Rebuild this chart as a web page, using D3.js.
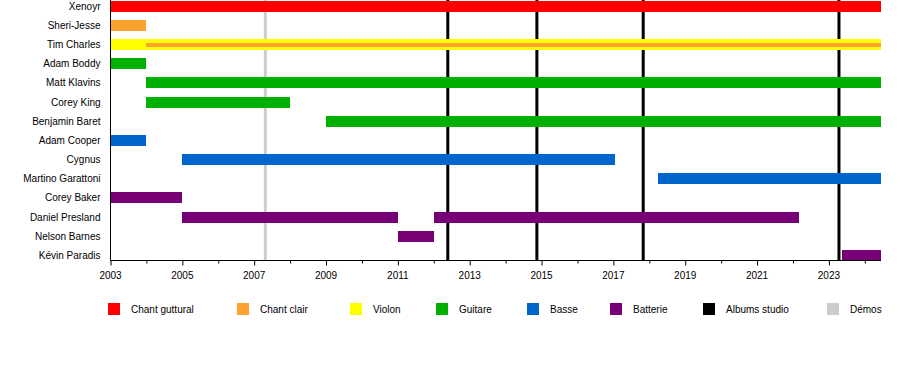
<!DOCTYPE html>
<html>
<head>
<meta charset="utf-8">
<script src="https://cdn.jsdelivr.net/npm/d3@7"></script>
<style>
  html, body { margin: 0; padding: 0; background: #fff; }
  svg { display: block; font-family: "Liberation Sans", Arial, sans-serif; }
</style>
</head>
<body>
<svg id="chart" width="900" height="380"></svg>
<script>
// ---- Data ----
const members = ["Xenoyr", "Sheri-Jesse", "Tim Charles", "Adam Boddy", "Matt Klavins", "Corey King",
  "Benjamin Baret", "Adam Cooper", "Cygnus", "Martino Garattoni", "Corey Baker", "Daniel Presland",
  "Nelson Barnes", "Kévin Paradis"];

const roles = ["Chant guttural", "Chant clair", "Violon", "Guitare", "Basse", "Batterie", "Albums studio", "Démos"];
const roleColors = ["#ff0000", "#ffa030", "#ffff00", "#00b000", "#0066cc", "#770077", "#000000", "#cccccc"];

const END = 2024.45;
// [member, role, start, end]
const periods = [
  ["Xenoyr", "Chant guttural", 2003, END],
  ["Sheri-Jesse", "Chant clair", 2003, 2004],
  ["Tim Charles", "Violon", 2003, END],
  ["Adam Boddy", "Guitare", 2003, 2004],
  ["Matt Klavins", "Guitare", 2004, END],
  ["Corey King", "Guitare", 2004, 2008],
  ["Benjamin Baret", "Guitare", 2009, END],
  ["Adam Cooper", "Basse", 2003, 2004],
  ["Cygnus", "Basse", 2005, 2017.05],
  ["Martino Garattoni", "Basse", 2018.25, END],
  ["Corey Baker", "Batterie", 2003, 2005],
  ["Daniel Presland", "Batterie", 2005, 2011],
  ["Daniel Presland", "Batterie", 2012, 2022.18],
  ["Nelson Barnes", "Batterie", 2011, 2012],
  ["Kévin Paradis", "Batterie", 2023.37, END]
];
// secondary (thin) role lines
const secondary = [
  ["Tim Charles", "Chant clair", 2004, END]
];

const albums = [2012.39, 2014.87, 2017.83, 2023.28];
const demos = [2007.31];
const tickYears = d3.range(2003, 2025, 1);
const labelYears = [2003, 2005, 2007, 2009, 2011, 2013, 2015, 2017, 2019, 2021, 2023];

// ---- Layout ----
const svg = d3.select("#chart");
const plotLeft = 110.5, plotRight = 881, plotTop = 0, axisY = 260.5;

const x = d3.scaleLinear().domain([2003, END]).range([plotLeft, plotRight]);
const y = d3.scalePoint().domain(members).range([6.4, 255.3]);
const color = d3.scaleOrdinal().domain(roles).range(roleColors);
const barH = 11, thinH = 4;

// vertical event lines (under bars)
svg.append("g").selectAll("line").data(demos).join("line")
  .attr("x1", d => x(d)).attr("x2", d => x(d))
  .attr("y1", plotTop).attr("y2", axisY)
  .attr("stroke", color("Démos")).attr("stroke-width", 3);

svg.append("g").selectAll("line").data(albums).join("line")
  .attr("x1", d => x(d)).attr("x2", d => x(d))
  .attr("y1", plotTop).attr("y2", axisY)
  .attr("stroke", color("Albums studio")).attr("stroke-width", 3);

// bars
svg.append("g").selectAll("rect").data(periods).join("rect")
  .attr("x", d => x(d[2]))
  .attr("width", d => x(d[3]) - x(d[2]))
  .attr("y", d => y(d[0]) - barH / 2)
  .attr("height", barH)
  .attr("fill", d => color(d[1]))
  .attr("shape-rendering", "crispEdges");

svg.append("g").selectAll("rect").data(secondary).join("rect")
  .attr("x", d => x(d[2]))
  .attr("width", d => x(d[3]) - x(d[2]))
  .attr("y", d => y(d[0]) - thinH / 2)
  .attr("height", thinH)
  .attr("fill", d => color(d[1]))
  .attr("shape-rendering", "crispEdges");

// member labels
svg.append("g").selectAll("text").data(members).join("text")
  .attr("x", 100.5)
  .attr("y", d => y(d))
  .attr("dy", "0.35em")
  .attr("text-anchor", "end")
  .attr("font-size", 10)
  .attr("fill", "#000")
  .text(d => d);

// left axis line
svg.append("line")
  .attr("x1", plotLeft).attr("x2", plotLeft).attr("y1", plotTop).attr("y2", axisY)
  .attr("stroke", "#000").attr("stroke-width", 1);

// bottom axis
const axis = d3.axisBottom(x)
  .tickValues(tickYears)
  .tickSizeOuter(0)
  .tickSize(3)
  .tickFormat("");
const gAxis = svg.append("g").attr("transform", `translate(0,${axisY})`).call(axis);
gAxis.select(".domain").attr("stroke", "#000").attr("d", `M${plotLeft},0H${plotRight}`);
gAxis.selectAll(".tick line").attr("stroke", "#000")
  .attr("y2", d => labelYears.includes(d) ? 5 : 3);

svg.append("g").selectAll("text").data(labelYears).join("text")
  .attr("x", d => x(d))
  .attr("y", 279)
  .attr("text-anchor", "middle")
  .attr("font-size", 10)
  .attr("fill", "#000")
  .text(d => d);

// legend
const legendX = [108, 237, 350, 436, 527, 610, 703, 827];
const lg = svg.append("g").selectAll("g").data(roles).join("g")
  .attr("transform", (d, i) => `translate(${legendX[i]},303)`);
lg.append("rect").attr("width", 12).attr("height", 12).attr("fill", d => color(d));
lg.append("text").attr("x", 23).attr("y", 6).attr("dy", "0.35em")
  .attr("font-size", 10).attr("fill", "#000").text(d => d);
</script>
</body>
</html>
